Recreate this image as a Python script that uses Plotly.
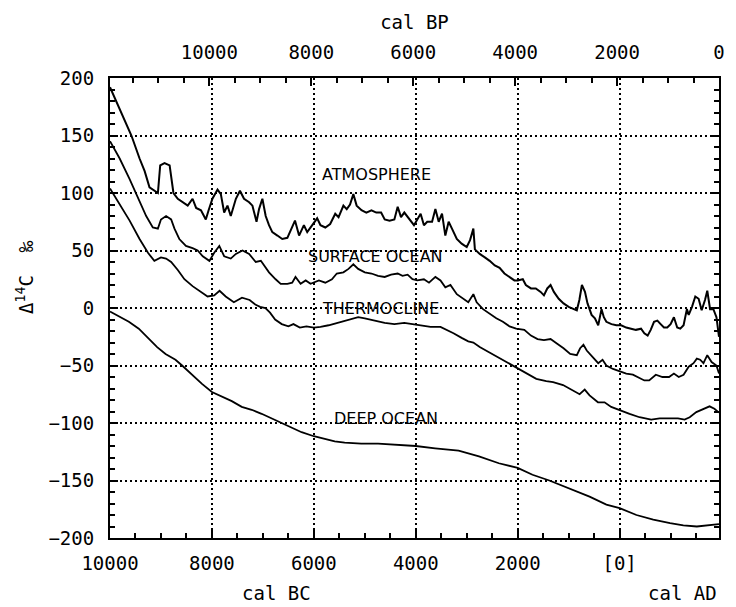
import plotly.graph_objects as go

# Calendar year (negative = BC, positive = AD) and Delta-14C in permil
atm_year = [-10000, -9800, -9580, -9420, -9320, -9225, -9130, -9060, -9015, -8930, -8830, -8800,
            -8755, -8670, -8570, -8475, -8380, -8310, -8215, -8120, -8065, -7990, -7890, -7825,
            -7760, -7695, -7630, -7530, -7450, -7370, -7270, -7205, -7125, -7075, -7010, -6945,
            -6880, -6815, -6715, -6620, -6520, -6455, -6370, -6290, -6195, -6130, -6030, -5935,
            -5870, -5775, -5680, -5580, -5515, -5420, -5355, -5290, -5225, -5160, -5065, -4970,
            -4870, -4775, -4680, -4610, -4515, -4420, -4355, -4290, -4225, -4160, -4100, -4035,
            -3970, -3905, -3840, -3775, -3680, -3615, -3550, -3485, -3420, -3355, -3290, -3195,
            -3100, -3000, -2935, -2870, -2840, -2745, -2645, -2550, -2450, -2355, -2260, -2160,
            -2065, -2000, -1900, -1840, -1740, -1645, -1550, -1485, -1420, -1355, -1290, -1195,
            -1100, -1000, -905, -840, -790, -740, -680, -630, -550, -485, -420, -355, -310, -260,
            -160, -65, 30, 130, 225, 320, 420, 485, 550, 610, 675, 740, 805, 870, 935, 1000, 1065,
            1130, 1190, 1255, 1320, 1355, 1420, 1485, 1550, 1610, 1675, 1720, 1775, 1840, 1900, 1950]
atm_d14c = [192, 172, 150, 130, 119, 105, 102, 100, 124, 126, 124, 115,
            100, 95, 92, 89, 95, 87, 85, 77, 85, 95, 103, 99,
            83, 89, 80, 95, 102, 95, 92, 89, 75, 86, 95, 80,
            72, 66, 63, 60, 61, 67, 76, 63, 72, 66, 72, 78,
            72, 70, 73, 82, 79, 89, 86, 90, 99, 89, 85, 83,
            85, 83, 83, 77, 76, 77, 88, 79, 83, 79, 75, 72,
            77, 82, 72, 75, 75, 86, 75, 82, 63, 75, 69, 60,
            56, 53, 59, 69, 51, 47, 44, 41, 37, 35, 30, 27,
            24, 24, 25, 20, 17, 17, 14, 11, 17, 20, 14, 8,
            4, 1, -1, -2, 7, 20, 14, 4, -6, -9, -15, -1, -8, -12,
            -14, -15, -15, -17, -18, -19, -18, -22, -24, -19, -12, -11, -14, -17, -17, -14, -8,
            -17, -18, -15, -1, -6, 1, 10, 8, -2, 7, 15, -1, -1, -8, -25]

surf_year = [-10000, -9810, -9615, -9420, -9290, -9160, -9060, -9000, -8900, -8800, -8735, -8640,
             -8510, -8380, -8280, -8180, -8050, -7955, -7855, -7760, -7630, -7530, -7400, -7270,
             -7140, -7040, -6975, -6880, -6750, -6650, -6520, -6425, -6360, -6260, -6160, -6065,
             -5900, -5775, -5645, -5550, -5420, -5320, -5225, -5130, -5000, -4870, -4740, -4610,
             -4485, -4355, -4260, -4160, -4065, -3970, -3840, -3740, -3615, -3515, -3420, -3320,
             -3195, -3065, -2970, -2870, -2805, -2680, -2550, -2420, -2290, -2160, -2030, -1870,
             -1740, -1610, -1485, -1355, -1225, -1100, -970, -840, -775, -710, -645, -550, -420,
             -335, -260, -130, 0, 130, 260, 385, 485, 580, 710, 840, 970, 1065, 1160, 1255, 1355,
             1450, 1515, 1580, 1645, 1720, 1805, 1900, 1950]
surf_d14c = [145, 130, 112, 93, 80, 70, 69, 77, 80, 77, 69, 60,
             54, 52, 50, 45, 41, 48, 54, 45, 43, 47, 50, 47,
             40, 41, 37, 31, 25, 21, 21, 22, 27, 21, 24, 21,
             24, 22, 25, 30, 31, 34, 38, 34, 31, 30, 28, 27,
             29, 30, 28, 29, 25, 24, 25, 22, 27, 24, 18, 20,
             12, 8, 5, 12, 5, -1, -5, -9, -12, -16, -18, -19,
             -24, -27, -28, -27, -31, -35, -40, -41, -35, -32, -37, -42, -48,
             -45, -50, -53, -55, -57, -58, -61, -63, -63, -58, -60, -60, -57, -60, -58, -51,
             -48, -44, -45, -48, -41, -47, -50, -57]

therm_year = [-10000, -9810, -9615, -9420, -9255, -9130, -9000, -8900, -8800, -8670, -8540, -8380,
              -8215, -8085, -7955, -7850, -7730, -7570, -7410, -7260, -7150, -7055, -6950, -6860,
              -6760, -6630, -6500, -6400, -6275, -6145, -6000, -5870, -5710, -5550, -5385, -5260,
              -5130, -5000, -4805, -4610, -4420, -4225, -4065, -3905, -3710, -3515, -3390, -3260,
              -3100, -2970, -2870, -2745, -2580, -2420, -2225, -2000, -1830, -1635, -1440, -1305,
              -1110, -915, -785, -685, -590, -425, -295, -165, 0, 195, 390, 620, 785, 980, 1145,
              1275, 1375, 1505, 1665, 1765, 1860, 1950]
therm_d14c = [104, 90, 76, 60, 48, 41, 44, 43, 40, 33, 25, 19,
              14, 10, 11, 15, 10, 5, 9, 7, 3, 1, 0, -4,
              -10, -14, -16, -14, -17, -16, -17, -16.5, -15, -13, -11, -9,
              -8, -9, -11, -13, -14, -13, -14, -15, -16.5, -16.5, -19, -22,
              -26, -29, -30, -34, -38, -42, -47, -53, -57, -61.6, -63.6, -64.5,
              -67, -72, -75, -71, -76, -82, -82, -86, -89, -92, -95, -97, -96, -96, -96,
              -97, -95, -90.5, -87.6, -85.5, -87.6, -91]

deep_year = [-10000, -9825, -9630, -9435, -9240, -9075, -8910, -8715, -8585, -8390, -8195, -8000,
             -7805, -7610, -7415, -7220, -7025, -6830, -6630, -6435, -6240, -6000, -5785, -5590,
             -5395, -5070, -4740, -4415, -4000, -3620, -3160, -2760, -2370, -2000, -1710, -1380,
             -985, -590, -260, 0, 330, 660, 990, 1250, 1515, 1780, 1950]
deep_d14c = [-3, -7, -12, -18, -27, -34, -40, -45, -50, -58, -66, -73,
             -77, -81, -86, -88.5, -92, -96, -100, -104, -108, -111.5, -114, -116,
             -117, -118, -118, -119, -120, -122, -124, -129, -135, -139, -145, -150,
             -157, -164, -171, -174, -180, -184, -187, -189, -190, -188.5, -188]

# Bottom axis (cal BC / AD) and top axis (cal BP) ticks
bc_tickvals = [-10000, -8000, -6000, -4000, -2000, 0]
bc_ticktext = ["10000", "8000", "6000", "4000", "2000", "[0]"]
bp_tickvals = [10000, 8000, 6000, 4000, 2000, 0]
bp_ticktext = ["10000", "8000", "6000", "4000", "2000", "0"]
y_tickvals = [200, 150, 100, 50, 0, -50, -100, -150, -200]

# Curve labels: (text, year, value)
curve_labels = [("ATMOSPHERE", -4770, 116),
                ("SURFACE OCEAN", -4790, 45),
                ("THERMOCLINE", -4700, 0),
                ("DEEP OCEAN", -4580, -96)]

FONT = "DejaVu Sans Mono"
X_END = 1950

fig = go.Figure()
for xs, ys, w in [(atm_year, atm_d14c, 2.0), (surf_year, surf_d14c, 1.8),
                  (therm_year, therm_d14c, 1.8), (deep_year, deep_d14c, 1.8)]:
    fig.add_trace(go.Scatter(x=xs, y=ys, mode="lines", line=dict(color="black", width=w),
                             showlegend=False, hoverinfo="skip"))

for text, x, y in curve_labels:
    fig.add_annotation(x=x, y=y, text=text, showarrow=False,
                       font=dict(family="DejaVu Sans", size=16, color="black"),
                       xanchor="center", yanchor="middle")

grid = dict(showgrid=True, gridcolor="black", gridwidth=1.5, griddash="2px,3px")

fig.update_layout(
    width=736, height=607,
    margin=dict(l=110, r=11, t=78, b=69),
    paper_bgcolor="white", plot_bgcolor="white",
    font=dict(family=FONT, size=19, color="black"),
    xaxis=dict(range=[-10000, X_END], tickvals=bc_tickvals, ticktext=bc_ticktext,
               ticks="inside", ticklen=8, tickwidth=1.5, tickcolor="black",
               ticklabelstandoff=7,
               minor=dict(dtick=500, tick0=0, ticks="inside", ticklen=5, tickwidth=1.5,
                          tickcolor="black", showgrid=False),
               showline=True, linecolor="black", linewidth=2, mirror=True,
               zeroline=False, **grid),
    xaxis2=dict(range=[X_END + 10000, 0], overlaying="x", side="top", anchor="y",
                tickvals=bp_tickvals, ticktext=bp_ticktext,
                ticks="inside", ticklen=8, tickwidth=1.5, tickcolor="black",
                ticklabelstandoff=14,
                minor=dict(dtick=500, tick0=0, ticks="inside", ticklen=5, tickwidth=1.5,
                           tickcolor="black", showgrid=False),
                showgrid=False, zeroline=False,
                title=dict(text="cal BP", font=dict(family=FONT, size=19), standoff=6)),
    yaxis=dict(range=[-200, 200], tickvals=y_tickvals,
               ticks="inside", ticklen=8, tickwidth=1.5, tickcolor="black",
               ticklabelstandoff=10,
               minor=dict(dtick=10, tick0=0, ticks="inside", ticklen=5, tickwidth=1.5,
                          tickcolor="black", showgrid=False),
               showline=True, linecolor="black", linewidth=2, mirror="ticks",
               zeroline=False, **grid),
)

# Empty trace bound to the top axis so the cal BP scale is drawn
fig.add_trace(go.Scatter(x=[], y=[], xaxis="x2", yaxis="y", showlegend=False))

fig.add_annotation(x=-6740, y=-0.12, xref="x", yref="paper", text="cal BC", showarrow=False,
                   font=dict(family=FONT, size=19), xanchor="center", yanchor="middle")
fig.add_annotation(x=1.0, y=-0.12, xref="paper", yref="paper", text="cal AD", showarrow=False,
                   font=dict(family=FONT, size=19), xanchor="right", yanchor="middle")
fig.add_annotation(x=-0.14, y=0.567, xref="paper", yref="paper",
                   text="\u0394<sup>14</sup>C  \u2030", textangle=-90, showarrow=False,
                   font=dict(family=FONT, size=19), xanchor="center", yanchor="middle")

fig.write_html("out.html")
